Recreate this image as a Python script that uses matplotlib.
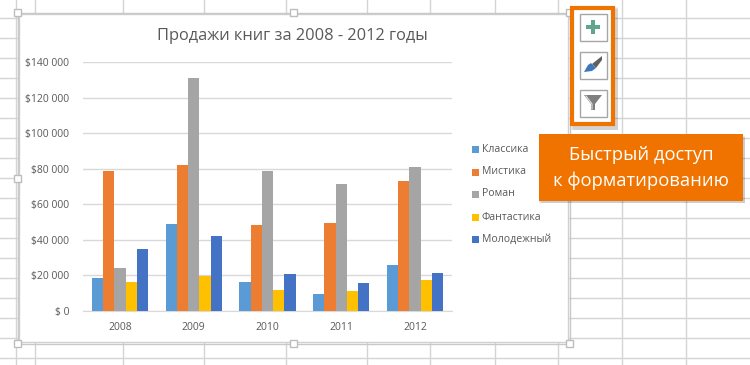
import numpy as np
import matplotlib
matplotlib.use("Agg")
import matplotlib.pyplot as plt
from matplotlib.patches import Rectangle, Polygon

plt.rcParams['font.family'] = ['Open Sans', 'DejaVu Sans']

# chart data
years = ['2008', '2009', '2010', '2011', '2012']
klassika = [18500, 48900, 16300, 9600, 25900]
mistika = [78700, 82100, 48400, 49500, 73100]
roman = [24200, 131000, 78700, 71400, 81000]
fantastika = [16300, 19900, 11800, 11200, 17400]
molodezh = [34900, 42200, 20800, 15700, 21400]

series_names = ['Классика', 'Мистика', 'Роман', 'Фантастика', 'Молодежный']
series_values = [klassika, mistika, roman, fantastika, molodezh]
series_colors = ['#5B9BD5', '#ED7D31', '#A5A5A5', '#FFC000', '#4472C4']
y_ticks = [0, 20000, 40000, 60000, 80000, 100000, 120000, 140000]
y_labels = ['$ 0', '$20 000', '$40 000', '$60 000', '$80 000', '$100 000', '$120 000', '$140 000']

# spreadsheet cells behind the chart
sheet_columns = [16, 35, 123, 204, 286, 367, 430, 495, 558, 622, 686]
sheet_rows = [18 + 20 * i for i in range(18)]

W, H = 750, 365
TEXT = '#595959'
ORANGE = '#F07300'

fig = plt.figure(figsize=(W / 100, H / 100), dpi=100, facecolor='white')

# whole figure axes in pixels, for the sheet and the overlays
bg = fig.add_axes([0, 0, 1, 1], zorder=0)
bg.set_xlim(0, W)
bg.set_ylim(H, 0)
bg.axis('off')

for x in sheet_columns:
    bg.plot([x, x], [0, H], color='#D4D4D4', lw=1)
for y in sheet_rows:
    bg.plot([0, W], [y, y], color='#D4D4D4', lw=1)

# chart area with its frame
bg.add_patch(Rectangle((19, 14), 549, 328, fc='white', ec='#D0D0D0', lw=1, zorder=3))
bg.add_patch(Rectangle((17.5, 12.5), 552, 331, fc='none', ec='#C8C8C8', lw=1, zorder=3))
for hx, hy in [(17, 12), (293, 12), (569, 12), (17, 178), (569, 178),
               (17, 343), (293, 343), (569, 343)]:
    bg.add_patch(Rectangle((hx - 3.5, hy - 3.5), 7, 7, fc='white', ec='#BDBDBD', lw=1, zorder=4))

bg.text(292, 36, 'Продажи книг за 2008 - 2012 годы', color=TEXT, fontsize=11.75,
        ha='center', va='center', zorder=5)

# the bars
ax = fig.add_axes([83 / W, 1 - 311 / H, 369 / W, 249 / H], zorder=2)
ax.patch.set_alpha(0)
x_pos = np.arange(len(years))
bar_w = 0.152
for i, (vals, col) in enumerate(zip(series_values, series_colors)):
    ax.bar(x_pos + (i - 2) * bar_w, vals, bar_w, color=col, zorder=3)
ax.set_xlim(-0.5, 4.5)
ax.set_ylim(0, 140000)
ax.set_xticks(x_pos)
ax.set_xticklabels(years)
ax.set_yticks(y_ticks)
ax.set_yticklabels(y_labels)
ax.tick_params(length=0, labelsize=7.5, labelcolor=TEXT)
ax.tick_params(axis='y', pad=10)
ax.tick_params(axis='x', pad=8)
ax.grid(axis='y', color='#D9D9D9', lw=1, zorder=0)
ax.set_axisbelow(True)
for name in ['top', 'right', 'left']:
    ax.spines[name].set_visible(False)
ax.spines['bottom'].set_color('#D9D9D9')

# legend
over = fig.add_axes([0, 0, 1, 1], zorder=5)
over.set_xlim(0, W)
over.set_ylim(H, 0)
over.axis('off')

legend_y = [149, 172, 194, 217, 239]
for name, col, y in zip(series_names, series_colors, legend_y):
    over.add_patch(Rectangle((472, y - 3.5), 7, 7, fc=col, ec='none'))
    over.text(482, y, name, color=TEXT, fontsize=7.6, va='center', ha='left')

# soft shadows, a few offset layers
for grow in [0, 1, 2]:
    over.add_patch(Rectangle((571 + grow, 7 + grow), 45 + 2 - grow, 121 + 2 - grow, fc='#000000', alpha=0.06, ec='none'))
    over.add_patch(Rectangle((539 + grow, 136 + grow), 206 - grow, 67 - grow, fc='#000000', alpha=0.07, ec='none'))

# toolbar box with buttons
over.add_patch(Rectangle((572, 8), 41, 116, fc='white', ec=ORANGE, lw=3))
for by in [13, 51, 89]:
    over.add_patch(Rectangle((579.5, by + 0.5), 27, 27, fc='white', ec='#A6A6A6', lw=1))

# plus
over.add_patch(Rectangle((586, 25), 14, 4, fc='#5FA58F', ec='none'))
over.add_patch(Rectangle((591, 20), 4, 14, fc='#5FA58F', ec='none'))

# brush
over.add_patch(Polygon([[592, 64], [602, 56], [602, 60], [596, 68]], fc='#606060', ec='none'))
over.add_patch(Polygon([[584, 72], [588, 65], [591, 63], [596, 68], [592, 71]], fc='#3F78B8', ec='none'))

# funnel
over.add_patch(Polygon([[584, 95], [602, 95], [595, 104], [595, 110], [591, 110], [591, 104]],
                       fc='#7F7F7F', ec='none'))
over.plot([586, 592, 592], [96, 104, 109], color='#E6E6E6', lw=0.8)

# callout
over.add_patch(Rectangle((539, 134), 204, 67, fc=ORANGE, ec='none'))
over.text(641, 155, 'Быстрый доступ', color='white', fontsize=13.2, ha='center', va='center')
over.text(641, 181, 'к форматированию', color='white', fontsize=13.2, ha='center', va='center')

fig.savefig('out.png', dpi=100)
